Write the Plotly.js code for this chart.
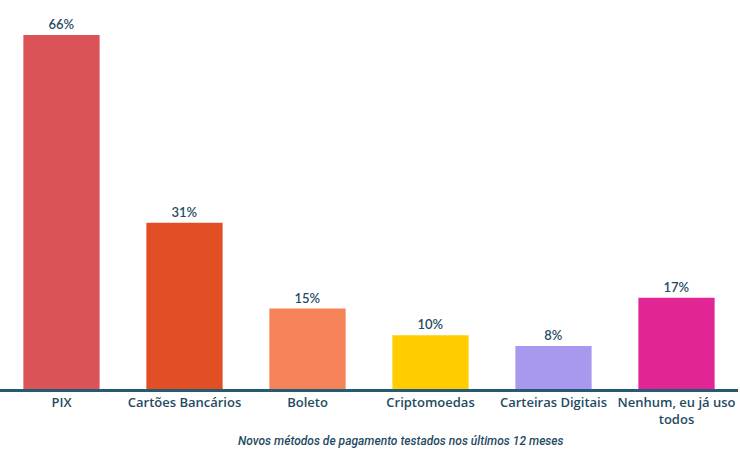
<!DOCTYPE html>
<html><head><meta charset="utf-8">
<script src="https://cdn.plot.ly/plotly-3.0.1.min.js"></script>
<style>html,body{margin:0;padding:0;background:#fff}#chart{width:740px;height:455px}</style>
</head><body><div id="chart"></div>
<script>
const categories = ["PIX", "Cartões Bancários", "Boleto", "Criptomoedas", "Carteiras Digitais", "Nenhum, eu já uso<br>todos"];
const values = [66, 31, 15, 10, 8, 17];
const labels = ["66%", "31%", "15%", "10%", "8%", "17%"];
const colors = ["#dc5357", "#e34f25", "#f6825a", "#ffcd00", "#a899ef", "#e22594"];
const xTitle = "Novos métodos de pagamento testados nos últimos 12 meses";

const textColor = "#1f4b63";
Plotly.newPlot("chart", [{
  type: "bar",
  x: categories,
  y: values,
  text: labels,
  textposition: "outside",
  cliponaxis: false,
  marker: {color: colors},
  textfont: {family: "Lato, sans-serif", size: 13, color: textColor, weight: 600},
  width: 0.62,
  hoverinfo: "none"
}], {
  width: 740, height: 455,
  margin: {l: 0, r: 2, t: 35, b: 66},
  paper_bgcolor: "#fff", plot_bgcolor: "#fff",
  showlegend: false,
  xaxis: {
    showline: true, linecolor: "#245a72", linewidth: 2.5,
    ticks: "", tickfont: {family: "Open Sans, sans-serif", size: 13, color: textColor, weight: 600},
    fixedrange: true
  },
  yaxis: {range: [0, 66], visible: false, showgrid: false, zeroline: false, fixedrange: true},
  annotations: [{
    text: xTitle, xref: "paper", yref: "paper", x: 0.543, y: -0.147,
    xanchor: "center", yanchor: "middle", showarrow: false,
    font: {family: "Roboto, sans-serif", size: 12, color: textColor, style: "italic", weight: 500}
  }]
}, {displayModeBar: false, staticPlot: true});
</script></body></html>
